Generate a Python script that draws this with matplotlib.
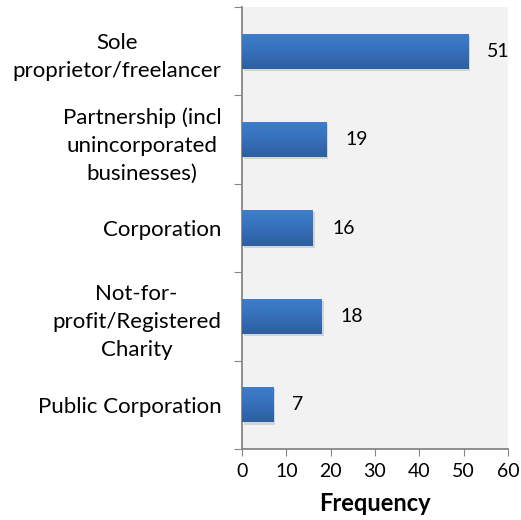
import numpy as np
import matplotlib.pyplot as plt
from matplotlib import patheffects as pe
from matplotlib.colors import LinearSegmentedColormap

categories = ["Sole\nproprietor/freelancer",
              "Partnership (incl\nunincorporated\nbusinesses)",
              "Corporation",
              "Not-for-\nprofit/Registered\nCharity",
              "Public Corporation"]
values = [51, 19, 16, 18, 7]
x_ticks = [0, 10, 20, 30, 40, 50, 60]

plt.rcParams['font.family'] = ['Lato', 'DejaVu Sans']

fig = plt.figure(figsize=(5.21, 5.20), dpi=100)
ax = fig.add_axes([242 / 521, 1 - 449 / 520, 266 / 521, 442 / 520])
ax.set_facecolor("#F2F2F2")

n = len(categories)
ypos = np.arange(n)[::-1]
bars = ax.barh(ypos, values, height=0.4, color="#3670BA", zorder=2)

# vertical gradient inside each bar, lighter on top
grad = np.linspace(0, 1, 64).reshape(-1, 1)
cmap = LinearSegmentedColormap.from_list("bar", ["#3D7ECD", "#3670BA", "#2E5F9F"])
for b in bars:
    x0, y0, w, h = b.get_x(), b.get_y(), b.get_width(), b.get_height()
    b.set_path_effects([pe.SimplePatchShadow(offset=(1.5, -1.5), shadow_rgbFace="#b0b0b0", alpha=0.45), pe.Normal()])
    im = ax.imshow(grad, extent=(x0, x0 + w, y0, y0 + h), cmap=cmap, aspect="auto", zorder=3)
    im.set_clip_path(b)

for y, v in zip(ypos, values):
    ax.text(v + 4.3, y, str(v), va="center", ha="left", fontsize=14)

ax.set_xlim(0, 60)
ax.set_ylim(-0.5, n - 0.5)
ax.set_xticks(x_ticks)
ax.tick_params(axis="x", labelsize=14, length=5, color="#868686", pad=5)

ax.set_yticks(np.arange(-0.5, n, 1.0))
ax.set_yticklabels([])
ax.set_yticks(ypos, minor=True)
ax.set_yticklabels(categories, minor=True, fontsize=16, ha="right",
                   multialignment="center", linespacing=1.5)
ax.tick_params(axis="y", which="major", length=6, color="#868686")
ax.tick_params(axis="y", which="minor", length=0, pad=15)

for s in ["top", "right"]:
    ax.spines[s].set_visible(False)
for s in ["left", "bottom"]:
    ax.spines[s].set_color("#868686")
    ax.spines[s].set_linewidth(1.3)

ax.set_xlabel("Frequency", fontsize=17, fontweight="bold", labelpad=9)

fig.savefig("out.png", dpi=100)
